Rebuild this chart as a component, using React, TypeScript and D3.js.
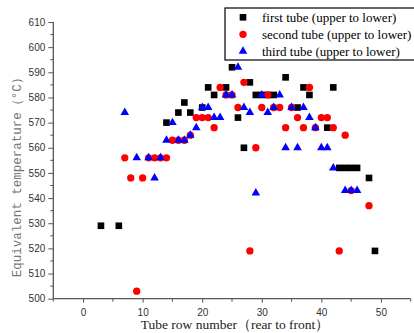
import { useEffect, useRef } from "react";
import * as d3 from "d3";

// tube row numbers and equivalent temperatures
const firstRows = [3, 6, 14, 16, 17, 18, 20, 21, 22, 24, 25, 26, 27, 28, 29, 30, 31, 32, 34, 36, 37, 38, 41, 42, 43, 44, 45, 46, 48, 49];
const firstTemps = [529, 529, 570, 574, 578, 574, 576, 584, 581, 584, 592, 572, 560, 586, 581, 581, 581, 581, 588, 576, 584, 581, 568, 584, 552, 552, 552, 552, 548, 519];

const secondRows = [7, 8, 9, 10, 11, 12, 13, 14, 15, 16, 17, 18, 19, 20, 21, 22, 23, 24, 25, 26, 27, 28, 29, 30, 31, 32, 33, 34, 35, 36, 37, 38, 39, 40, 41, 42, 43, 44, 45, 48];
const secondTemps = [556, 548, 503, 548, 556, 556, 556, 556, 563, 563, 563, 565, 572, 572, 572, 568, 584, 581, 581, 576, 586, 519, 560, 576, 581, 576, 576, 568, 576, 572, 568, 584, 568, 572, 572, 568, 519, 565, 543, 537];

const thirdRows = [7, 9, 11, 12, 13, 14, 15, 16, 17, 18, 19, 20, 21, 22, 23, 24, 25, 26, 27, 28, 29, 30, 31, 32, 33, 34, 35, 36, 37, 38, 39, 40, 41, 42, 44, 45, 46];
const thirdTemps = [574, 556, 556, 548, 556, 563, 570, 563, 563, 565, 568, 576, 576, 572, 572, 581, 581, 592, 576, 574, 542, 581, 574, 576, 581, 560, 576, 560, 576, 572, 568, 560, 560, 552, 543, 543, 543];

const seriesNames = ["first tube (upper to lower)", "second tube (upper to lower)", "third tube (upper to lower)"];
const xTicks = [0, 10, 20, 30, 40, 50];
const yTicks = [500, 510, 520, 530, 540, 550, 560, 570, 580, 590, 600, 610];

export default function App() {
  const svgRef = useRef<SVGSVGElement | null>(null);

  useEffect(() => {
    if (!svgRef.current) return;
    const svg = d3.select(svgRef.current);
    svg.selectAll("*").remove();

    const width = 414;
    const height = 333;
    const x = d3.scaleLinear().domain([-5, 55]).range([53.3, 410.7]);
    const y = d3.scaleLinear().domain([500, 610]).range([298.7, 22]);
    const axisColor = "#555";

    svg.attr("width", width).attr("height", height).attr("viewBox", `0 0 ${width} ${height}`);

    // y axis
    const yAxis = svg.append("g").attr("transform", `translate(${x(-5)},0)`);
    yAxis
      .call(d3.axisLeft(y).tickValues(yTicks).tickSize(5).tickPadding(3).tickFormat(d3.format("d")))
      .call((g) => g.select(".domain").remove());
    yAxis
      .selectAll("line")
      .attr("stroke", axisColor);
    yAxis
      .selectAll("text")
      .attr("fill", "#333")
      .attr("font-family", "Liberation Sans, Arial, sans-serif")
      .attr("font-size", 10);
    yAxis
      .append("g")
      .selectAll("line")
      .data(d3.range(505, 610, 10))
      .join("line")
      .attr("x1", -3)
      .attr("x2", 0)
      .attr("y1", (d) => y(d))
      .attr("y2", (d) => y(d))
      .attr("stroke", axisColor);
    yAxis
      .append("line")
      .attr("x1", 0)
      .attr("x2", 0)
      .attr("y1", y(610))
      .attr("y2", y(500))
      .attr("stroke", axisColor)
      .attr("stroke-width", 1.3);

    // x axis
    const xAxis = svg.append("g").attr("transform", `translate(0,${y(500)})`);
    xAxis
      .call(d3.axisBottom(x).tickValues(xTicks).tickSize(4).tickPadding(6).tickFormat(d3.format("d")))
      .call((g) => g.select(".domain").remove());
    xAxis.selectAll("line").attr("stroke", axisColor);
    xAxis
      .selectAll("text")
      .attr("fill", "#333")
      .attr("font-family", "Liberation Sans, Arial, sans-serif")
      .attr("font-size", 10);
    xAxis
      .append("g")
      .selectAll("line")
      .data([-5, 5, 15, 25, 35, 45, 55])
      .join("line")
      .attr("x1", (d) => x(d))
      .attr("x2", (d) => x(d))
      .attr("y1", 0)
      .attr("y2", 3)
      .attr("stroke", axisColor);
    xAxis
      .append("line")
      .attr("x1", x(-5))
      .attr("x2", x(55))
      .attr("y1", 0)
      .attr("y2", 0)
      .attr("stroke", axisColor)
      .attr("stroke-width", 1.3);

    // axis titles
    svg
      .append("text")
      .attr("transform", `translate(21,${(y(500) + y(610)) / 2 + 14}) rotate(-90)`)
      .attr("text-anchor", "middle")
      .attr("fill", "#777")
      .attr("font-family", "Liberation Mono, DejaVu Sans Mono, monospace")
      .attr("font-size", 12.5)
      .text("Equivalent temperature（°C）");

    svg
      .append("text")
      .attr("x", 235)
      .attr("y", 329)
      .attr("text-anchor", "middle")
      .attr("fill", "#222")
      .attr("font-family", "Liberation Serif, Times New Roman, serif")
      .attr("font-size", 13.5)
      .text("Tube row number（rear to front）");

    // markers
    const square = d3.symbol().type(d3.symbolSquare).size(44)();
    const circle = d3.symbol().type(d3.symbolCircle).size(42)();
    const triangle = d3.symbol().type(d3.symbolTriangle).size(32)();
    const series = [
      { rows: firstRows, temps: firstTemps, path: square, color: "#000000" },
      { rows: secondRows, temps: secondTemps, path: circle, color: "#ff0000" },
      { rows: thirdRows, temps: thirdTemps, path: triangle, color: "#0000ff" },
    ];

    series.forEach((s) => {
      svg
        .append("g")
        .selectAll("path")
        .data(s.rows.map((r, i) => [r, s.temps[i]]))
        .join("path")
        .attr("d", s.path)
        .attr("transform", (d) => `translate(${x(d[0])},${y(d[1])})`)
        .attr("fill", s.color);
    });

    // legend
    const legend = svg.append("g");
    legend
      .append("rect")
      .attr("x", 225)
      .attr("y", 8)
      .attr("width", 200)
      .attr("height", 52)
      .attr("fill", "white")
      .attr("stroke", "#000")
      .attr("stroke-width", 1.2);
    series.forEach((s, i) => {
      const cy = 17.3 + i * 17;
      legend
        .append("path")
        .attr("d", s.path)
        .attr("transform", `translate(243,${cy})`)
        .attr("fill", s.color);
      legend
        .append("text")
        .attr("x", 262)
        .attr("y", cy)
        .attr("dy", "0.35em")
        .attr("fill", "#000")
        .attr("font-family", "Liberation Serif, Times New Roman, serif")
        .attr("font-size", 13)
        .text(seriesNames[i]);
    });
  }, []);

  return (
    <div>
      <style>{"body{margin:0}"}</style>
      <svg ref={svgRef} style={{ display: "block" }} />
    </div>
  );
}
